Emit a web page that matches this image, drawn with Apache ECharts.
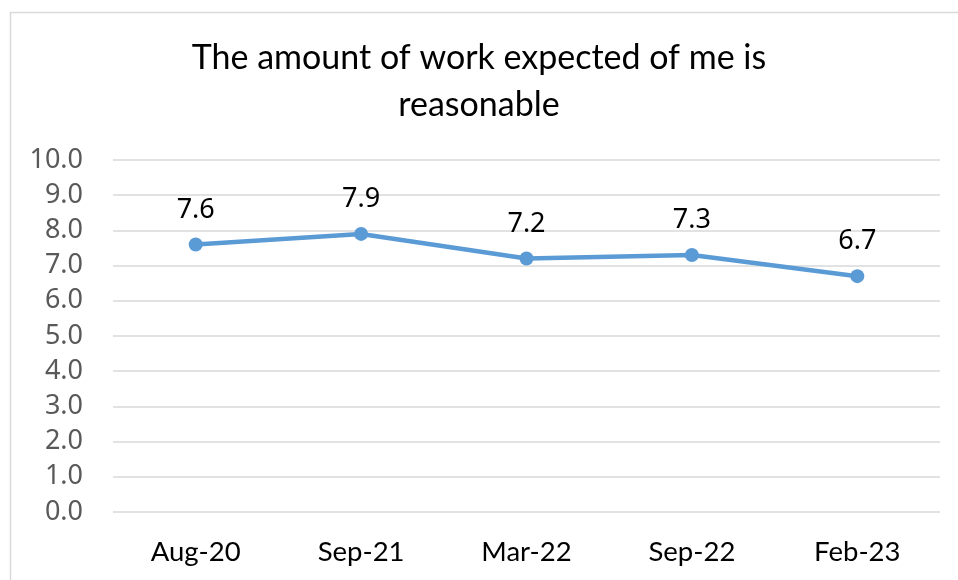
<!DOCTYPE html>
<html><head><meta charset="utf-8">
<script src="https://cdn.jsdelivr.net/npm/echarts@6/dist/echarts.min.js"></script>
<style>html,body{margin:0;padding:0;background:#fff}#c{width:958px;height:580px}</style>
</head><body><div id="c"></div>
<script>
const titleText = "The amount of work expected of me is\nreasonable";
const categories = ["Aug-20", "Sep-21", "Mar-22", "Sep-22", "Feb-23"];
const values = [7.6, 7.9, 7.2, 7.3, 6.7];
const yMin = 0, yMax = 10, yStep = 1;
const FONT = 'Lato';

const chart = echarts.init(document.getElementById('c'));
chart.setOption({
  animation: false,
  graphic: [{type:'rect', shape:{x:10.5, y:12.5, width:960, height:600}, style:{fill:'none', stroke:'#d9d9d9', lineWidth:1.5}}],
  title: {text: titleText, left: 'center', top: 30, textStyle:{fontFamily:FONT, fontWeight:'normal', fontSize:34, color:'#000', lineHeight:47}},
  grid: {left: 113, right: 18, top: 160, bottom: 68},
  xAxis: {type:'category', data: categories, boundaryGap: true,
    axisLine:{show:false}, axisTick:{show:false},
    axisLabel:{fontFamily:FONT, fontSize:27.5, color:'#000', margin:26}},
  yAxis: {type:'value', min:yMin, max:yMax, interval:yStep,
    axisLine:{show:false}, axisTick:{show:false},
    splitLine:{lineStyle:{color:'#d9d9d9', width:1.5}},
    axisLabel:{formatter: v => v.toFixed(1), fontFamily:'Noto Sans', fontSize:27, color:'#595959', margin:30}},
  series: [{type:'line', data: values, symbol:'circle', symbolSize:14,
    lineStyle:{color:'#5b9bd5', width:4.5}, itemStyle:{color:'#5b9bd5'},
    label:{show:true, position:'top', distance:14, formatter: p => p.value.toFixed(1), fontFamily:'Noto Sans', fontSize:27, color:'#000'}}]
});
</script></body></html>
